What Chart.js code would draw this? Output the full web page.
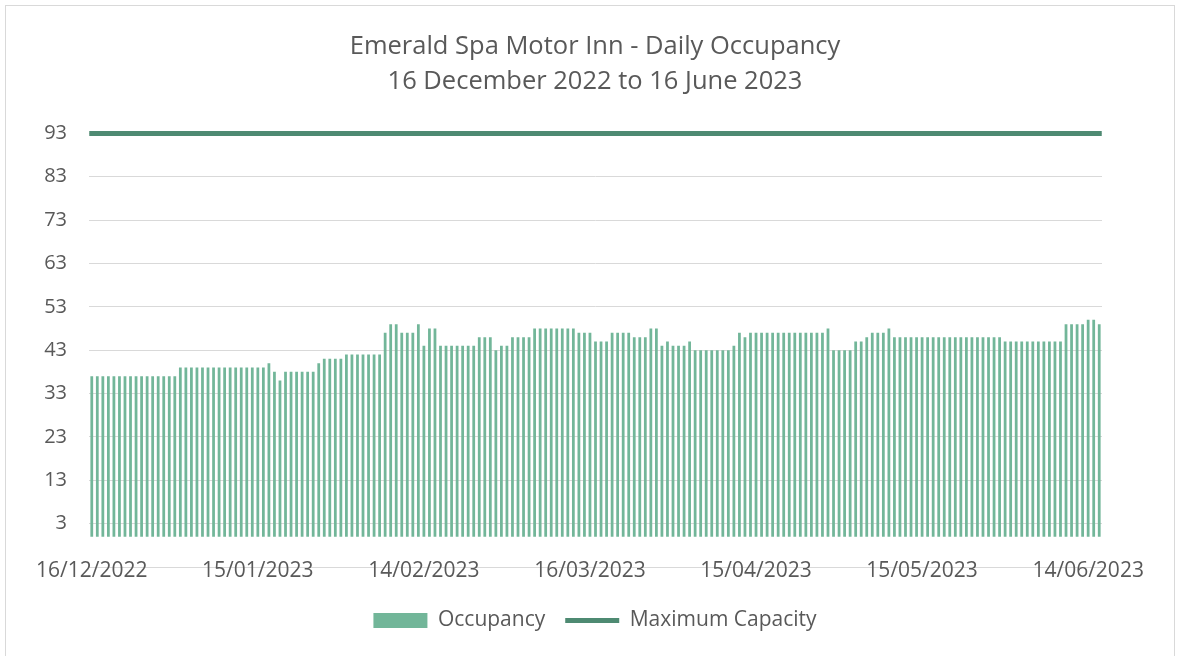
<!DOCTYPE html>
<html>
<head>
<meta charset="utf-8">
<title>Emerald Spa Motor Inn - Daily Occupancy</title>
<script src="https://cdn.jsdelivr.net/npm/chart.js@4.4.1/dist/chart.umd.min.js"></script>
<style>
    html, body { margin: 0; padding: 0; background: #fff; }
    #wrap { position: relative; width: 1179px; height: 656px; }
</style>
</head>
<body>
<div id="wrap"><canvas id="occupancyChart" width="1179" height="656"></canvas></div>
<script>
// daily categories run from this date, one per day
const startDate = "2022-12-16";
const dayCount = 183;

const tickLabels = ["16/12/2022", "15/01/2023", "14/02/2023", "16/03/2023", "15/04/2023", "15/05/2023", "14/06/2023"];
const yTicks = [3, 13, 23, 33, 43, 53, 63, 73, 83, 93];

// rooms occupied per night (Dec, Jan, Feb, Mar, Apr, May, Jun)
const occupancy = [
    37, 37, 37, 37, 37, 37, 37, 37, 37, 37, 37, 37, 37, 37, 37, 37,
    39, 39, 39, 39, 39, 39, 39, 39, 39, 39, 39, 39, 39, 39, 39, 39, 40, 38, 36, 38, 38, 38, 38, 38, 38, 40, 41, 41, 41, 41, 42,
    42, 42, 42, 42, 42, 42, 47, 49, 49, 47, 47, 47, 49, 44, 48, 48, 44, 44, 44, 44, 44, 44, 44, 46, 46, 46, 43, 44,
    44, 46, 46, 46, 46, 48, 48, 48, 48, 48, 48, 48, 48, 47, 47, 47, 45, 45, 45, 47, 47, 47, 47, 46, 46, 46, 48, 48, 44, 45, 44,
    44, 44, 45, 43, 43, 43, 43, 43, 43, 43, 44, 47, 46, 47, 47, 47, 47, 47, 47, 47, 47, 47, 47, 47, 47, 47, 47, 48, 43, 43,
    43, 43, 45, 45, 46, 47, 47, 47, 48, 46, 46, 46, 46, 46, 46, 46, 46, 46, 46, 46, 46, 46, 46, 46, 46, 46, 46, 46, 46, 45, 45,
    45, 45, 45, 45, 45, 45, 45, 45, 45, 49, 49, 49, 49, 50, 50, 49
];
const maxCapacity = 93;

const textColor = "#595959";
const barColor = "#72b699";
const lineColor = "#4e8a72";
const gridColor = "#d9d9d9";

function fmtDay(d) {
    const dd = String(d.getUTCDate()).padStart(2, "0");
    const mm = String(d.getUTCMonth() + 1).padStart(2, "0");
    return `${dd}/${mm}/${d.getUTCFullYear()}`;
}

const days = [];
const first = new Date(startDate + "T00:00:00Z");
for (let i = 0; i < dayCount; i++) {
    days.push(fmtDay(new Date(first.getTime() + i * 86400000)));
}

const frame = {
    id: "frame",
    beforeDraw(chart) {
        const ctx = chart.ctx;
        ctx.save();
        ctx.fillStyle = "#fff";
        ctx.fillRect(0, 0, chart.width, chart.height);
        ctx.strokeStyle = gridColor;
        ctx.lineWidth = 1;
        ctx.strokeRect(5.5, 5.5, 1169, 700);
        ctx.restore();
    }
};

const PLOT_BOTTOM = 567;
const PAD_BOTTOM = 15;

Chart.defaults.font.family = "'Open Sans', sans-serif";
Chart.defaults.color = textColor;

new Chart(document.getElementById("occupancyChart"), {
    data: {
        labels: days,
        datasets: [
            {
                type: "bar",
                label: "Occupancy",
                data: occupancy,
                backgroundColor: barColor,
                base: 0,
                barPercentage: 0.5,
                categoryPercentage: 1,
                order: 2
            },
            {
                type: "line",
                label: "Maximum Capacity",
                data: [{ x: days[0], y: maxCapacity }, { x: days[days.length - 1], y: maxCapacity }],
                borderColor: lineColor,
                backgroundColor: lineColor,
                borderWidth: 5,
                borderCapStyle: "square",
                pointRadius: 0,
                clip: false,
                order: 1
            }
        ]
    },
    options: {
        responsive: false,
        animation: false,
        events: [],
        layout: { padding: { top: 5, right: 0, bottom: PAD_BOTTOM, left: 11 } },
        plugins: {
            title: {
                display: true,
                text: ["Emerald Spa Motor Inn - Daily Occupancy", "16 December 2022 to 16 June 2023"],
                color: textColor,
                font: { size: 25.5, weight: "normal", lineHeight: 1.38 },
                padding: { top: 24, bottom: 34 }
            },
            legend: {
                position: "bottom",
                labels: {
                    usePointStyle: true,
                    pointStyleWidth: 54,
                    boxHeight: 15,
                    padding: 20,
                    color: textColor,
                    font: { size: 21 },
                    generateLabels: () => [
                        { text: "Occupancy", fillStyle: barColor, strokeStyle: barColor, lineWidth: 0, pointStyle: "rect", datasetIndex: 0, fontColor: textColor },
                        { text: "Maximum Capacity", fillStyle: lineColor, strokeStyle: lineColor, lineWidth: 5, pointStyle: "line", datasetIndex: 1, fontColor: textColor }
                    ]
                }
            },
            tooltip: { enabled: false }
        },
        scales: {
            x: {
                type: "category",
                offset: true,
                grid: { display: false, drawTicks: false },
                border: { display: true, color: gridColor, width: 1 },
                ticks: {
                    autoSkip: false,
                    maxRotation: 0,
                    minRotation: 0,
                    mirror: true,
                    padding: -17,
                    font: { size: 21 },
                    color: textColor,
                    callback: (v, i) => tickLabels.includes(days[i]) ? days[i] : null
                },
                afterFit(scale) {
                    const chart = scale.chart;
                    const legendH = chart.legend ? chart.legend.height : 0;
                    scale.height = chart.height - PAD_BOTTOM - legendH - PLOT_BOTTOM;
                }
            },
            y: {
                min: -7,
                max: 93,
                grid: { color: gridColor, drawTicks: false },
                border: { display: false },
                afterBuildTicks(scale) {
                    scale.ticks = [-7].concat(yTicks).map(v => ({ value: v }));
                },
                ticks: {
                    padding: 22,
                    font: { size: 20 },
                    color: textColor,
                    callback: v => yTicks.includes(v) ? String(v) : ""
                },
                afterFit(scale) {
                    scale.width = 78;
                }
            },
            // empty right-hand spacer so the title and legend centre on the whole frame
            spacer: {
                type: "linear",
                position: "right",
                grid: { display: false, drawTicks: false },
                border: { display: false },
                ticks: { display: false },
                afterFit(scale) {
                    scale.width = 77;
                }
            }
        }
    },
    plugins: [frame]
});
</script>
</body>
</html>
